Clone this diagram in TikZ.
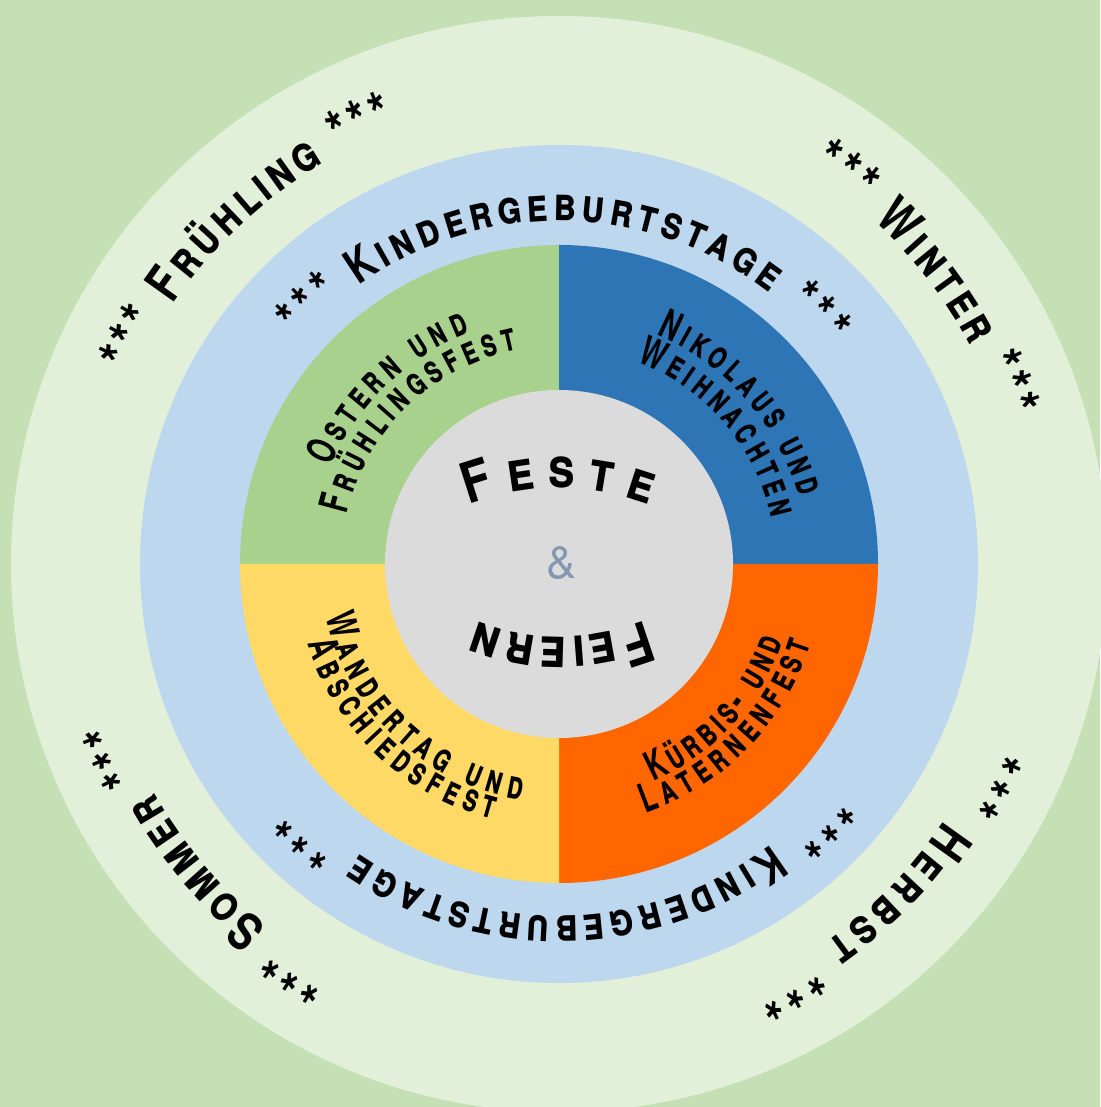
\documentclass[tikz,border=0pt]{standalone}
\usepackage{fontspec}
\setmainfont{TeX Gyre Heros}
\newfontfamily\hand[FakeStretch=0.8]{TeX Gyre Heros}
\newfontfamily\handq[FakeStretch=0.66]{TeX Gyre Heros}
\newfontfamily\handc[FakeStretch=0.85]{TeX Gyre Heros}
\usetikzlibrary{decorations.text}
\definecolor{bgc}{HTML}{C5E0B4}
\definecolor{outerc}{HTML}{E2F0D9}
\definecolor{ringc}{HTML}{BDD7EE}
\definecolor{qgreen}{HTML}{A9D18E}
\definecolor{qblue}{HTML}{2E75B6}
\definecolor{qorange}{HTML}{FF6600}
\definecolor{qyellow}{HTML}{FFD966}
\definecolor{grayc}{HTML}{DBDBDB}
\definecolor{ampc}{HTML}{8497B0}
\newcommand\hf[1]{\hand\bfseries\scshape\fontsize{#1}{#1}\selectfont}
\newcommand\hq[1]{\handq\bfseries\scshape\fontsize{#1}{#1}\selectfont}
\newcommand\hc[1]{\handc\bfseries\scshape\fontsize{#1}{#1}\selectfont}
\tikzset{
  txt/.style={decorate, decoration={text along path, text align={fit to path}, text={#1}}}
}
% #1 font commands, #2 text, #3 start angle, #4 end angle, #5 radius, #6 shift
\newcommand\ctext[6]{\path[txt={|#1|#2}, shift={(#6)}] (#3:#5) arc[start angle=#3, end angle=#4, radius=#5];}
\begin{document}
\begin{tikzpicture}[x=0.01cm,y=0.01cm]
\useasboundingbox (-559,-543) rectangle (541,564);
\fill[bgc] (-559,-543) rectangle (541,564);
\fill[outerc] (0,0) circle[radius=548];
\fill[ringc] (0,0) circle[radius=419];
\fill[qgreen] (0,0) -- (90:319) arc[start angle=90, end angle=180, radius=319] -- cycle;
\fill[qblue] (0,0) -- (0:319) arc[start angle=0, end angle=90, radius=319] -- cycle;
\fill[qorange] (0,0) -- (-90:319) arc[start angle=-90, end angle=0, radius=319] -- cycle;
\fill[qyellow] (0,0) -- (180:319) arc[start angle=180, end angle=270, radius=319] -- cycle;
\fill[grayc] (0,0) circle[radius=174];
\node[font=\fontsize{12.8}{12.8}\selectfont, text=ampc, inner sep=0pt] (amp) at (3,1) {\&};
% ring texts
\ctext{\hf{15.5}}{***|\hf{13.4}| Kindergeburtstage |\hf{15.5}|***}{139}{39}{343}{0,0}
\ctext{\hf{15.5}}{***|\hf{13.4}| Kindergeburtstage |\hf{15.5}|***}{-40}{-137.5}{352}{0,0}
% seasons
\ctext{\hf{16.5}}{***|\hf{14.5}| Frühling |\hf{16.5}|***}{156}{110.5}{465}{0,0}
\ctext{\hf{16.5}}{***|\hf{14.5}| Winter |\hf{16.5}|***}{57.5}{18}{466}{0,0}
\ctext{\hf{16.5}}{***|\hf{14.5}| Herbst |\hf{16.5}|***}{-23}{-65.5}{463}{0,0}
\ctext{\hf{16.5}}{***|\hf{14.5}| Sommer |\hf{16.5}|***}{-119}{-160.5}{465}{0,0}
% quadrants
\ctext{\hq{11.5}}{Ostern und}{157}{111}{248}{0,0}
\ctext{\hq{11.5}}{Frühlingsfest}{167}{101}{218}{0,0}
\ctext{\hq{11.5}}{Nikolaus und}{67}{15.5}{249}{0,0}
\ctext{\hq{11.5}}{Weihnachten}{69}{12}{217}{0,0}
\ctext{\hq{11.5}}{Kürbis- und}{-66.5}{-19}{237}{0,0}
\ctext{\hq{11.5}}{Laternenfest}{-71}{-17.5}{264}{0,0}
\ctext{\hq{11.5}}{Wandertag und}{192.6}{261}{239}{0,0}
\ctext{\hq{11.5}}{Abschiedsfest}{197.5}{255.5}{264}{0,0}
% centre
\ctext{\hc{16}}{Feste}{111}{69}{252}{0,-176}
\ctext{\hc{16}}{Feiern}{-67.6}{-112.4}{220}{2,147}
\end{tikzpicture}
\end{document}
